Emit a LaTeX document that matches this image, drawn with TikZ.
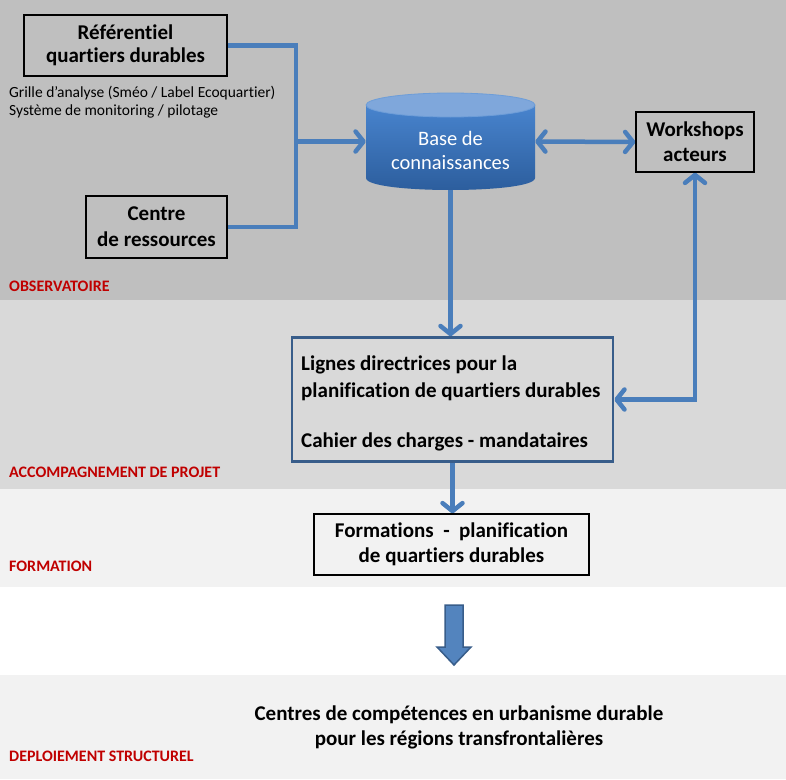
\documentclass[tikz,border=0pt]{standalone}
\usepackage{fontspec}
\setmainfont{Carlito}[Ligatures=NoCommon]
\usetikzlibrary{arrows.meta}
\definecolor{bandA}{HTML}{BFBFBF}
\definecolor{bandB}{HTML}{D9D9D9}
\definecolor{bandC}{HTML}{F2F2F2}
\definecolor{arrowblue}{HTML}{4A7EBB}
\definecolor{darkblue}{HTML}{385D8A}
\definecolor{labelred}{HTML}{C00000}
\definecolor{cyltop}{HTML}{7FA7DB}
\definecolor{cylA}{HTML}{4884CE}
\definecolor{cylB}{HTML}{2B5C9B}
\tikzset{
  boxnode/.style={draw=black, line width=1.3pt, align=center, inner sep=0pt,
    font=\bfseries\fontsize{21}{25}\selectfont},
  conn/.style={draw=arrowblue, line width=4.5pt, line join=miter},
  arr/.style={conn, -{Straight Barb[length=8pt,width=20pt,round]}},
  dblarr/.style={conn, {Straight Barb[length=8pt,width=20pt,round]}-{Straight Barb[length=8pt,width=20pt,round]}},
  lbl/.style={anchor=base west, inner sep=0pt, text=labelred, font=\bfseries\fontsize{16}{18}\selectfont},
  smalltxt/.style={anchor=base west, inner sep=0pt, font=\fontsize{15.5}{18}\selectfont},
  midtxt/.style={anchor=base west, inner sep=0pt, font=\bfseries\fontsize{21}{27}\selectfont},
}
\begin{document}
\begin{tikzpicture}[x=1pt,y=-1pt]
\useasboundingbox (0,0) rectangle (786,779);
% bands
\fill[bandA] (0,0) rectangle (786,300);
\fill[bandB] (0,300) rectangle (786,489);
\fill[bandC] (0,489) rectangle (786,587);
\fill[white] (0,587) rectangle (786,675);
\fill[bandC] (0,675) rectangle (786,779);
% labels
\node[lbl] (l1) at (9,291.5) {OBSERVATOIRE};
\node[lbl] (l2) at (9,477.5) {ACCOMPAGNEMENT DE PROJET};
\node[lbl] (l3) at (9,571.5) {FORMATION};
\node[lbl] (l4) at (9,761.5) {DEPLOIEMENT STRUCTUREL};
% boxes
\node[boxnode, minimum width=203pt, minimum height=61pt, font=\bfseries\fontsize{21}{23}\selectfont] (ref) at (125.5,45.5) {Référentiel\\quartiers durables};
\node[smalltxt] (sub1) at (9,97) {Grille d’analyse (Sméo / Label Ecoquartier)};
\node[smalltxt] (sub2) at (9,115) {Système de monitoring / pilotage};
\node[boxnode, minimum width=141pt, minimum height=62pt, font=\bfseries\fontsize{21}{26}\selectfont] (cr) at (156.5,227) {Centre\\de ressources};
\node[boxnode, minimum width=118pt, minimum height=60pt] (ws) at (695,142) {Workshops\\acteurs};
% cylinder
\shade[top color=cylA, bottom color=cylB] (366,105) -- (366,178) .. controls (366,194) and (535,194) .. (535,178) -- (535,105) -- cycle;
\draw[fill=cyltop, draw=cylA!80!white, line width=0.8pt] (450.5,105) ellipse [x radius=84.5, y radius=12];
\node[minimum width=169pt, minimum height=97pt, inner sep=0pt] (cyl) at (450.5,141.5) {};
\node[align=center, text=white, inner sep=0pt, font=\fontsize{20.5}{24}\selectfont] (cyltxt) at (450.5,150) {Base de\\connaissances};
% middle box
\node[draw=darkblue, line width=2.5pt, minimum width=321pt, minimum height=124pt, inner sep=0pt] (mid) at (452.5,399.5) {};
\node[midtxt] (midtxt1) at (301,370) {Lignes directrices pour la};
\node[midtxt] (midtxt2) at (301,397) {planification de quartiers durables};
\node[midtxt] (midtxt3) at (301,447) {Cahier des charges - mandataires};
% formations
\node[boxnode, minimum width=275pt, minimum height=61pt] (form) at (451.5,544.5) {Formations\ \ -\ \ planification\\de quartiers durables};
% bottom text
\node[align=center, inner sep=0pt, font=\bfseries\fontsize{21}{25}\selectfont] (final) at (459,727) {Centres de compétences en urbanisme durable\\pour les régions transfrontalières};
% connectors
\coordinate (brk) at (296,0);
\draw[conn] (ref.east) -| (brk |- cr.east) -- (cr.east);
\draw[arr] (brk |- cyl.west) -- (cyl.west);
\draw[dblarr] (cyl.east) -- (ws.west);
\draw[arr] (cyl.south) -- (cyl.south |- mid.north);
\draw[dblarr] (mid.east) -| (ws.south);
\draw[arr] (mid.south) -- (mid.south |- form.north);
% block arrow
\draw[fill=arrowblue!95!white, draw=darkblue, line width=1.5pt, line join=miter]
  (445,605) -- (463,605) -- (463,647) -- (471,647) -- (454,665) -- (437,647) -- (445,647) -- cycle;
\end{tikzpicture}
\end{document}
